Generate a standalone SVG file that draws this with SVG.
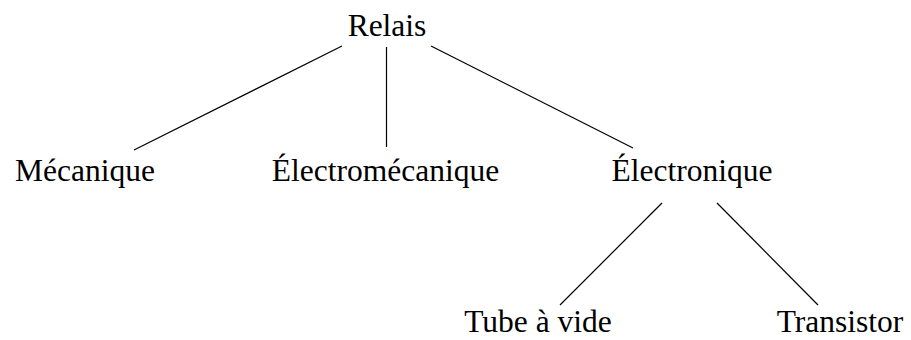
<svg xmlns="http://www.w3.org/2000/svg" width="911" height="340" viewBox="0 0 911 340">
  <style>
    .lbl { font-family: "Liberation Serif", "DejaVu Serif", serif; font-size: 31.5px; fill: #000; text-anchor: middle; }
    .edge { stroke: #000; stroke-width: 1.2; fill: none; }
  </style>
  <rect width="911" height="340" fill="#fff"/>
  <g id="connectors">
    <line class="edge" x1="342" y1="46" x2="134" y2="150"/>
    <line class="edge" x1="386.5" y1="47" x2="386.5" y2="147"/>
    <line class="edge" x1="431" y1="46" x2="633" y2="148"/>
    <line class="edge" x1="662" y1="203" x2="560" y2="305"/>
    <line class="edge" x1="717" y1="203" x2="818" y2="305"/>
  </g>
  <g id="relais"><text class="lbl" x="387" y="36">Relais</text></g>
  <g id="mecanique"><text class="lbl" x="85" y="181">Mécanique</text></g>
  <g id="electromecanique"><text class="lbl" x="385.5" y="181">Électromécanique</text></g>
  <g id="electronique"><text class="lbl" x="692" y="181">Électronique</text></g>
  <g id="tube"><text class="lbl" x="538" y="332">Tube à vide</text></g>
  <g id="transistor"><text class="lbl" x="840" y="332">Transistor</text></g>
</svg>
